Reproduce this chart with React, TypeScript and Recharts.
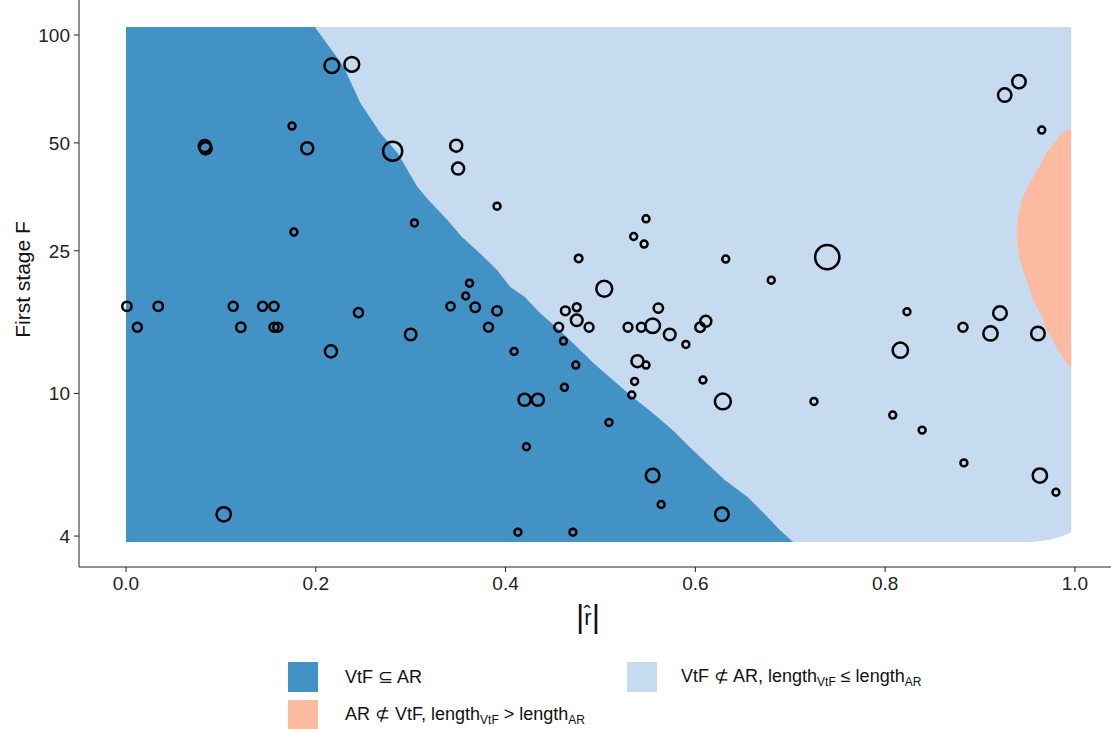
import { ComposedChart, Area, Scatter, XAxis, YAxis, ZAxis } from "recharts"

// region where VtF is contained in AR: upper F boundary as a function of |r|
const darkR = [0, 0.199, 0.229, 0.247, 0.268, 0.286, 0.307, 0.319, 0.339, 0.354, 0.373, 0.391, 0.405, 0.42, 0.436, 0.457, 0.475, 0.492, 0.513, 0.534, 0.555, 0.576, 0.594, 0.612, 0.631, 0.655, 0.672, 0.689, 0.703]
const darkTop = [105.3, 105.3, 81.9, 64.6, 53.3, 46.9, 37.7, 34.6, 30.4, 27.3, 24.6, 22.1, 19.8, 18.6, 16.8, 15.0, 13.5, 12.2, 10.9, 9.77, 8.82, 7.9, 7.09, 6.39, 5.73, 5.14, 4.64, 4.16, 3.85]

// whole grid (light blue)
const lightR = [0, 0.955, 0.972, 0.984, 0.996]
const lightLow = [3.85, 3.85, 3.9, 3.97, 4.1]
const gridTop = 105.3
const gridBottom = 3.85

// region where AR is not in VtF (salmon)
const salmonR = [0.939, 0.941, 0.944, 0.95, 0.956, 0.96, 0.964, 0.97, 0.976, 0.98, 0.984, 0.987, 0.993, 0.996]
const salmonLow = [26.5, 24.6, 22.5, 20.3, 18.2, 17.3, 16.8, 15.0, 14.2, 13.5, 13.0, 12.6, 11.9, 11.85]
const salmonHigh = [29.5, 31.9, 34.6, 37.7, 40.0, 42.0, 43.5, 46.9, 49.0, 50.5, 52.6, 53.5, 54.5, 54.7]

// studies: |r hat|, first stage F, weight
const studyR = [0.217, 0.238, 0.175, 0.083, 0.084, 0.191, 0.281, 0.177, 0.304, 0.348, 0.35, 0.391, 0.548, 0.535, 0.546, 0.477, 0.632, 0.362, 0.926, 0.941, 0.965, 0.739, 0.68, 0.001, 0.034, 0.113, 0.144, 0.156, 0.012, 0.121, 0.156, 0.16, 0.245, 0.216, 0.3, 0.103, 0.358, 0.342, 0.368, 0.391, 0.382, 0.409, 0.504, 0.463, 0.475, 0.475, 0.456, 0.461, 0.488, 0.529, 0.543, 0.555, 0.561, 0.573, 0.59, 0.605, 0.611, 0.539, 0.548, 0.536, 0.533, 0.462, 0.474, 0.42, 0.434, 0.509, 0.422, 0.555, 0.564, 0.628, 0.413, 0.471, 0.629, 0.608, 0.823, 0.882, 0.921, 0.911, 0.961, 0.816, 0.725, 0.808, 0.839, 0.883, 0.963, 0.98]
const studyF = [82.1, 82.8, 55.7, 49.0, 48.3, 48.3, 47.4, 28.2, 29.9, 49.1, 42.4, 33.3, 30.7, 27.4, 26.1, 23.8, 23.7, 20.3, 68.0, 74.1, 54.3, 24.0, 20.7, 17.5, 17.5, 17.5, 17.5, 17.5, 15.3, 15.3, 15.3, 15.3, 16.8, 13.1, 14.6, 4.6, 18.7, 17.5, 17.4, 17.0, 15.3, 13.1, 19.6, 17.0, 17.4, 16.0, 15.3, 14.0, 15.3, 15.3, 15.3, 15.45, 17.3, 14.6, 13.7, 15.3, 15.9, 12.3, 12.0, 10.8, 9.9, 10.4, 12.0, 9.6, 9.6, 8.3, 7.1, 5.9, 4.9, 4.6, 4.1, 4.1, 9.5, 10.9, 16.9, 15.3, 16.75, 14.7, 14.7, 13.2, 9.5, 8.7, 7.9, 6.4, 5.9, 5.3]
const studyW = [4.5, 4.5, 1, 3, 3, 3, 7.5, 1, 1, 3, 3, 1, 1, 1, 1, 1.2, 1, 1, 3.7, 3.7, 1, 12, 1, 1.8, 1.8, 1.7, 1.7, 1.7, 1.7, 1.8, 1.7, 1.7, 1.7, 3, 2.7, 4.2, 1, 1.4, 1.8, 1.8, 1.7, 1, 5.2, 1.6, 1.3, 2.8, 1.6, 1, 1.6, 1.6, 1.6, 4.4, 1.8, 2.8, 1, 1.9, 2.5, 3, 1, 1, 1, 1, 1, 3, 3, 1, 1, 3.8, 1, 3.8, 1, 1, 5.2, 1, 1, 1.7, 3.8, 4.2, 3.8, 4.8, 1, 1, 1, 1, 4.2, 1]

const xTicks = [0, 0.2, 0.4, 0.6, 0.8, 1.0]
const yTicks = [4, 10, 25, 50, 100]

const DARK = "#4292c6"
const LIGHT = "#c6dbef"
const SALMON = "#fcbba1"
const FONT = "'Liberation Sans', Arial, Helvetica, sans-serif"

const lightData = lightR.map((r, i) => ({ r, band: [lightLow[i], gridTop] }))
const darkData = darkR.map((r, i) => ({ r, band: [gridBottom, darkTop[i]] }))
const salmonData = salmonR.map((r, i) => ({ r, band: [salmonLow[i], salmonHigh[i]] }))
const studies = studyR.map((r, i) => ({ r, F: studyF[i], w: studyW[i] }))

const tickStyle = { fontSize: 19, fill: "#222", fontFamily: FONT }

function YTitle(props: any) {
  const vb = props.viewBox
  const x = vb.x + 22
  const y = vb.y + vb.height / 2 - 4
  return (
    <text x={x} y={y} transform={`rotate(-90 ${x} ${y})`} textAnchor="middle" dominantBaseline="central"
      style={{ fontSize: 21, fill: "#111", fontFamily: FONT }}>
      First stage F
    </text>
  )
}

function XTitle(props: any) {
  const vb = props.viewBox
  const x = vb.x + vb.width / 2 - 7
  const y = vb.y + 58
  return (
    <text x={x} y={y} textAnchor="middle" style={{ fontSize: 22, fill: "#111", fontFamily: FONT }}>
      <tspan style={{ fontSize: 32 }} dy={2}>|</tspan>
      <tspan dy={-2}>r̂</tspan>
      <tspan style={{ fontSize: 32 }} dy={2}>|</tspan>
    </text>
  )
}

function LegendItem({ color, left, top, gap, children }: any) {
  return (
    <div style={{ position: "absolute", left, top, display: "flex", alignItems: "center", height: 30, whiteSpace: "nowrap" }}>
      <div style={{ width: 30, height: 30, background: color }} />
      <div style={{ marginLeft: gap, fontSize: 18, color: "#111", fontFamily: FONT }}>{children}</div>
    </div>
  )
}

const sub = { fontSize: 12, verticalAlign: "-4px" }

export default function App() {
  return (
    <div style={{ position: "absolute", left: 0, top: 0, width: 1111, height: 729, background: "#fff", overflow: "hidden" }}>
      <ComposedChart width={1111} height={729} margin={{ top: 0, right: 0, bottom: 0, left: 0 }}>
        <XAxis dataKey="r" type="number" domain={[-0.0495, 1.038]} allowDataOverflow ticks={xTicks}
          tickFormatter={(v: number) => v.toFixed(1)} height={162} tickSize={5} tickMargin={5}
          stroke="#222" tick={tickStyle} label={<XTitle />} />
        <YAxis dataKey="F" type="number" scale="log" domain={[3.279, 125.2]} allowDataOverflow ticks={yTicks}
          width={79} tickSize={5} tickMargin={4} stroke="#222" tick={tickStyle} label={<YTitle />} />
        <ZAxis dataKey="w" type="number" domain={[1, 12]} range={[38, 460]} />
        <Area data={lightData} dataKey="band" type="linear" stroke="none" fill={LIGHT} fillOpacity={1}
          isAnimationActive={false} dot={false} activeDot={false} />
        <Area data={darkData} dataKey="band" type="linear" stroke="none" fill={DARK} fillOpacity={1}
          isAnimationActive={false} dot={false} activeDot={false} />
        <Area data={salmonData} dataKey="band" type="linear" stroke="none" fill={SALMON} fillOpacity={1}
          isAnimationActive={false} dot={false} activeDot={false} />
        <Scatter data={studies} dataKey="F" fill="none" stroke="#000" strokeWidth={2.5} shape="circle"
          isAnimationActive={false} />
      </ComposedChart>
      <LegendItem color={DARK} left={288} top={662} gap={27}>VtF ⊆ AR</LegendItem>
      <LegendItem color={LIGHT} left={627} top={662} gap={24}>
        VtF ⊄ AR, length<span style={sub}>VtF</span> ≤ length<span style={sub}>AR</span>
      </LegendItem>
      <LegendItem color={SALMON} left={288} top={700} gap={27}>
        AR ⊄ VtF, length<span style={sub}>VtF</span> &gt; length<span style={sub}>AR</span>
      </LegendItem>
    </div>
  )
}
